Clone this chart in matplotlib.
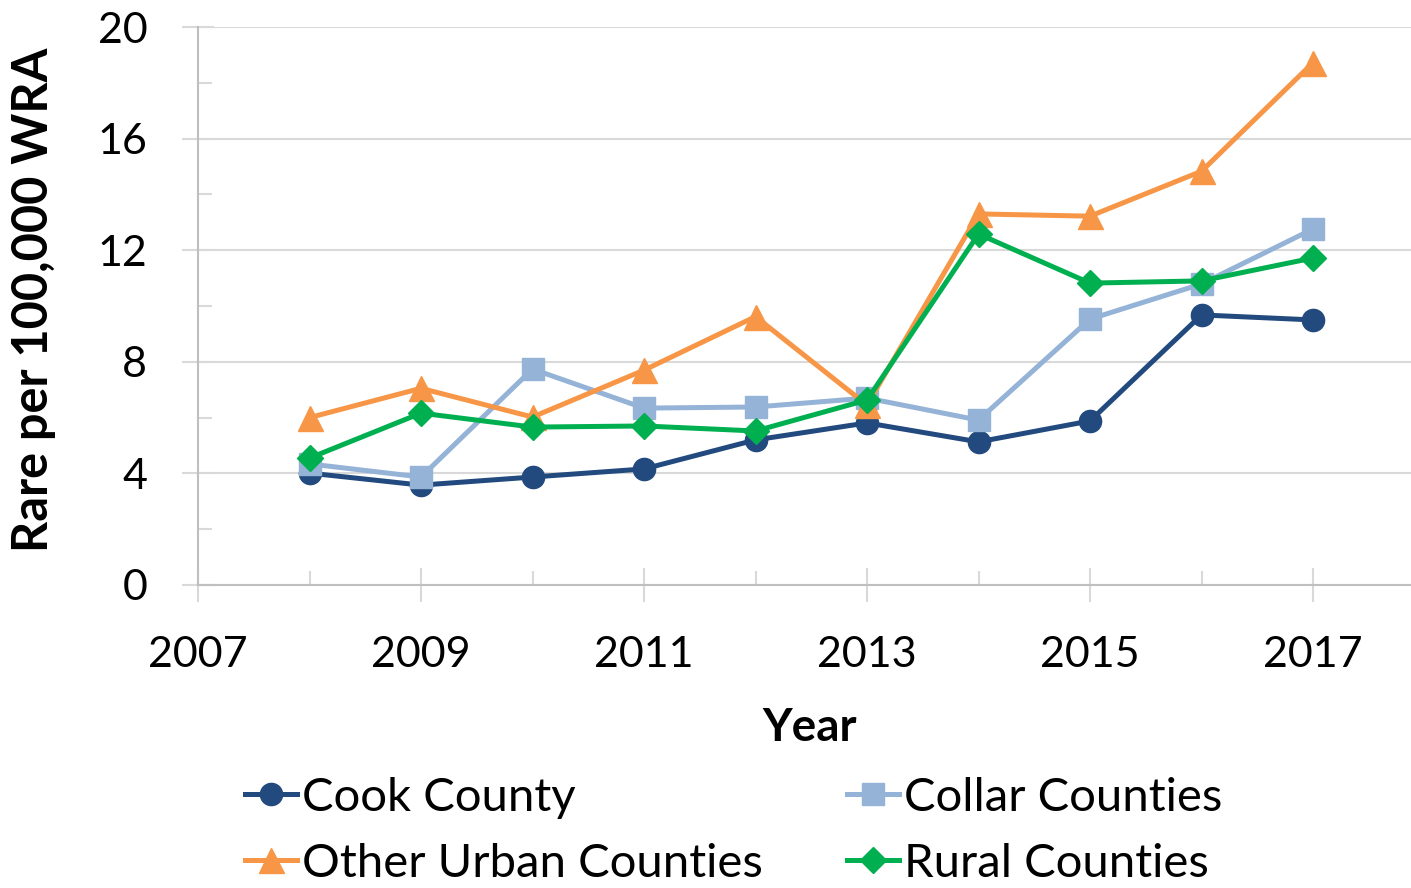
import matplotlib
matplotlib.use("Agg")
import matplotlib.pyplot as plt
from matplotlib.ticker import MultipleLocator

plt.rcParams['font.family'] = ['Lato', 'DejaVu Sans']

years = [2008, 2009, 2010, 2011, 2012, 2013, 2014, 2015, 2016, 2017]
cook = [4.01, 3.58, 3.87, 4.16, 5.2, 5.81, 5.13, 5.88, 9.68, 9.5]
collar = [4.34, 3.87, 7.74, 6.34, 6.38, 6.7, 5.91, 9.53, 10.79, 12.76]
other_urban = [6.0, 7.05, 6.02, 7.7, 9.62, 6.45, 13.3, 13.22, 14.83, 18.72]
rural = [4.55, 6.16, 5.66, 5.70, 5.52, 6.63, 12.58, 10.82, 10.9, 11.72]

fig = plt.figure(figsize=(14.11, 8.88), dpi=100)
ax = fig.add_axes([198 / 1411, 1 - 585 / 888, 1213 / 1411, 558 / 888])

l1, = ax.plot(years, cook, color='#224a7e', lw=3.6, marker='o', ms=16, label='Cook County', zorder=3)
l2, = ax.plot(years, collar, color='#95b3d7', lw=3.6, marker='s', ms=16, label='Collar Counties', zorder=3)
l3, = ax.plot(years, other_urban, color='#f79646', lw=3.6, marker='^', ms=18, label='Other Urban Counties', zorder=3)
l4, = ax.plot(years, rural, color='#00b050', lw=3.6, marker='D', ms=13, label='Rural Counties', zorder=4)

ax.set_xlim(2007, 2007 + 1213 / 111.5)
ax.set_ylim(0, 20)
ax.xaxis.set_major_locator(MultipleLocator(2, offset=1))
ax.xaxis.set_minor_locator(MultipleLocator(1))
ax.yaxis.set_major_locator(MultipleLocator(4))
ax.yaxis.set_minor_locator(MultipleLocator(2))

ax.grid(axis='y', which='major', color='#d9d9d9', lw=1.5, zorder=0)
for s in ['top', 'right']:
    ax.spines[s].set_visible(False)
for s in ['left', 'bottom']:
    ax.spines[s].set_color('#bfbfbf')
    ax.spines[s].set_linewidth(1.5)

ax.tick_params(axis='y', which='major', direction='inout', length=23, width=1.5,
               color='#d9d9d9', labelsize=31, pad=25)
ax.tick_params(axis='y', which='minor', direction='in', length=10, width=1.5, color='#d9d9d9')
ax.tick_params(axis='x', which='major', direction='inout', length=24, width=1.5,
               color='#d9d9d9', labelsize=31, pad=25)
ax.tick_params(axis='x', which='minor', direction='in', length=10, width=1.5, color='#d9d9d9')

ax.set_ylabel('Rare per 100,000 WRA', fontsize=35, fontweight='bold')
ax.yaxis.set_label_coords(-0.117, 0.511)
ax.set_xlabel('Year', fontsize=33, fontweight='bold')
ax.xaxis.set_label_coords(0.5045, -0.218)

# legend fills by column, so reorder to get Cook/Collar on the first row
fig.legend([l1, l3, l2, l4], [l1.get_label(), l3.get_label(), l2.get_label(), l4.get_label()],
           loc='upper left', bbox_to_anchor=(226 / 1411, 1 - 758 / 888), ncol=2,
           frameon=False, fontsize=34, handlelength=1.1, handletextpad=0.1,
           columnspacing=1.8, labelspacing=0.5, borderaxespad=0)

fig.savefig('out.png', dpi=100)
